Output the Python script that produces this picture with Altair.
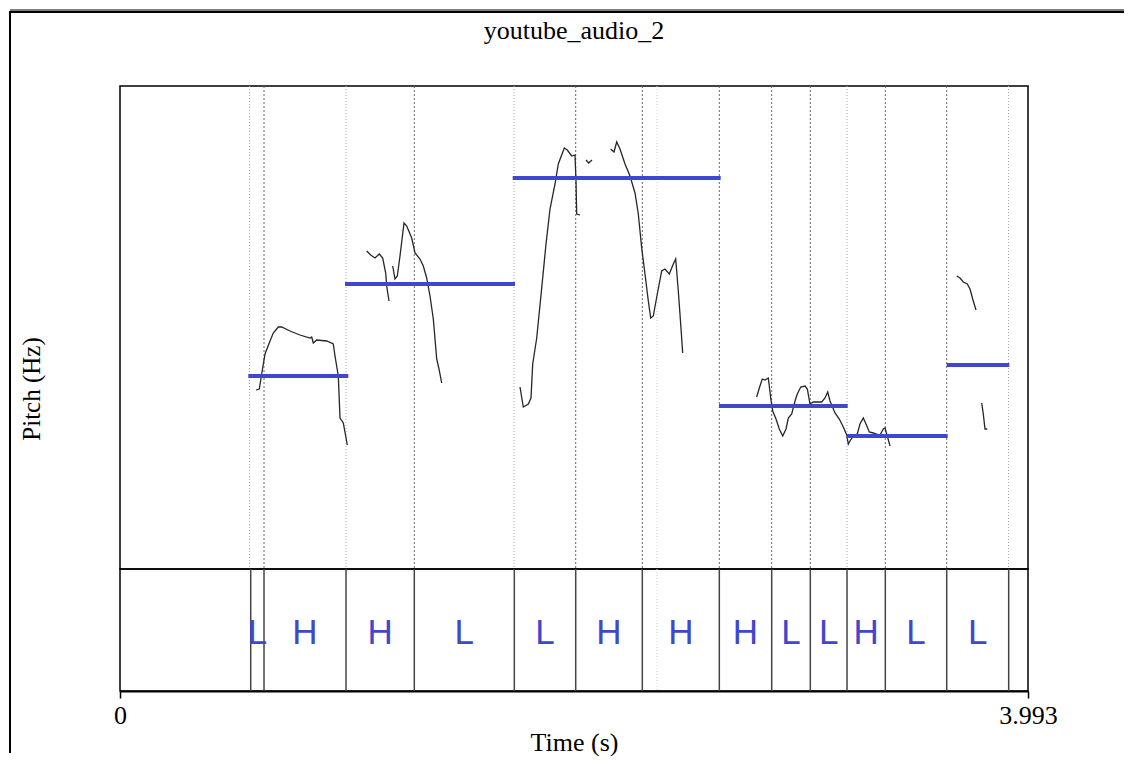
import altair as alt
import pandas as pd

TITLE = "youtube_audio_2"
T_END = 3.993
SERIF = "Liberation Serif"
SANS = "Liberation Sans"
BLUE = "#3f48cc"

# ---- pitch contour pieces (time in s, pitch in Hz) ----
seg_a_t = [0.5981, 0.6126, 0.6231, 0.6377, 0.6596, 0.6742, 0.6961, 0.7111, 0.7476, 0.7916, 0.8355,
           0.8430, 0.8501, 0.8650, 0.9090, 0.9380, 0.9455, 0.9600, 0.9675, 0.9820, 0.9996]
seg_a_hz = [279, 280, 295, 315, 328, 336, 342, 342, 338, 334, 331, 332, 326, 329, 328, 325, 313, 293, 251, 246, 224]

seg_b_t = [1.0849, 1.1025, 1.1214, 1.1403, 1.1552, 1.1684, 1.1728, 1.1830]
seg_b_hz = [418, 414, 411, 415, 411, 396, 383, 368]

seg_c_t = [1.1992, 1.2093, 1.2195, 1.2313, 1.2489, 1.2608, 1.2828, 1.2973, 1.3193, 1.3338, 1.3487,
           1.3633, 1.3778, 1.3927, 1.4028, 1.4147]
seg_c_hz = [403, 390, 393, 413, 446, 443, 431, 416, 410, 403, 391, 373, 350, 310, 300, 286]

seg_d_t = [1.7590, 1.7736, 1.7955, 1.8074, 1.8149, 1.8325, 1.8545, 1.8734, 1.8910, 1.9130, 1.9275,
           1.9539, 1.9670, 1.9864, 2.0009, 2.0053, 2.0083, 2.0229]
seg_d_hz = [282, 262, 265, 271, 305, 331, 381, 425, 460, 485, 505, 521, 519, 513, 514, 488, 455, 454]

seg_e_t = [2.0493, 2.0611, 2.0757]
seg_e_hz = [509, 506, 509]

seg_f_t = [2.1579, 2.1724, 2.1843, 2.1988, 2.2208, 2.2428, 2.2648, 2.2793, 2.2942, 2.3087, 2.3233,
           2.3338, 2.3452, 2.3628, 2.3822, 2.3967, 2.4156, 2.4332, 2.4437, 2.4552, 2.4657, 2.4745]
seg_f_hz = [520, 517, 527, 520, 505, 493, 476, 455, 421, 395, 368, 351, 353, 375, 398, 400, 395, 405,
            410, 378, 345, 316]

seg_g_t = [2.7999, 2.8114, 2.8246, 2.8365, 2.8510, 2.8615, 2.8703, 2.8848, 2.8993, 2.9143, 2.9288,
           2.9389, 2.9539, 2.9684, 2.9785, 2.9935, 3.0124, 3.0225, 3.0343, 3.0488, 3.0858, 3.1003,
           3.1122, 3.1223, 3.1443, 3.1632, 3.1808, 3.1958, 3.2028, 3.2102, 3.2248, 3.2423, 3.2542,
           3.2687, 3.2806, 3.2951, 3.3127, 3.3277, 3.3422, 3.3567, 3.3642, 3.3716, 3.3862]
seg_g_hz = [272, 281, 290, 289, 291, 271, 258, 250, 240, 233, 240, 251, 255, 268, 275, 282, 283, 280,
            265, 267, 267, 271, 277, 268, 256, 250, 242, 234, 225, 228, 233, 235, 245, 251, 245, 237,
            236, 235, 234, 240, 241, 235, 223]

seg_h_t = [3.6795, 3.6940, 3.7085, 3.7261, 3.7380, 3.7498, 3.7643]
seg_h_hz = [393, 391, 387, 385, 380, 370, 359]

seg_i_t = [3.7894, 3.7964, 3.8039, 3.8140]
seg_i_hz = [266, 255, 240, 240]

# ---- level lines (blue) ----
lvl_start = [0.5642, 0.9895, 1.7269, 2.6342, 3.1957, 3.6355]
lvl_end = [1.0040, 1.7371, 2.6416, 3.2001, 3.6399, 3.9108]
lvl_hz = [293, 385, 491, 263, 233, 304]

# ---- tier ----
tier_bounds = [0.5748, 0.6333, 0.9939, 1.2942, 1.7340, 2.0040, 2.2969, 2.6355, 2.8659,
               3.0357, 3.1971, 3.3655, 3.6355, 3.9081]
tier_labels = ["L", "H", "H", "L", "L", "H", "H", "H", "L", "L", "H", "L", "L"]

# boundary marks in the pitch area
dark_marks = [0.6333, 1.2942, 2.0040, 2.2969, 2.6355, 2.8659, 3.0357, 3.3655, 3.6355]
light_marks = [0.5695, 0.9939, 1.7327, 3.1971, 3.9073]
faint_marks = [2.3615]

W, H_P, H_T = 908, 483, 122

pieces = [("a", seg_a_t, seg_a_hz), ("b", seg_b_t, seg_b_hz), ("c", seg_c_t, seg_c_hz),
          ("d", seg_d_t, seg_d_hz), ("e", seg_e_t, seg_e_hz), ("f", seg_f_t, seg_f_hz),
          ("g", seg_g_t, seg_g_hz), ("h", seg_h_t, seg_h_hz), ("i", seg_i_t, seg_i_hz)]
rows = []
for name, ts, hs in pieces:
    for i, (t, h) in enumerate(zip(ts, hs)):
        rows.append({"seg": name, "i": i, "t": t, "hz": h})
contour_df = pd.DataFrame(rows)

lvl_df = pd.DataFrame({"t0": lvl_start, "t1": lvl_end, "hz": lvl_hz})
tier_df = pd.DataFrame({"t": tier_bounds})
lab_df = pd.DataFrame({
    "mid": [(tier_bounds[i] + tier_bounds[i + 1]) / 2 for i in range(len(tier_labels))],
    "lab": tier_labels,
})
one = pd.DataFrame({"k": [0]})

xs = alt.Scale(domain=[0, T_END], nice=False, zero=False)
ys = alt.Scale(domain=[100, 583], nice=False, zero=False)

y_axis = alt.Axis(title="Pitch (Hz)", labels=False, ticks=False, domain=False, grid=False,
                  titleFont=SERIF, titleFontSize=25, titleFontWeight="normal", titleColor="black",
                  titleX=-89, titleY=302.5, titleAngle=270, titleAlign="center",
                  titleBaseline="middle")

x_axis = alt.Axis(values=[0, T_END], labelExpr="format(datum.value, '.4~g')",
                  labelFlush=False, grid=False,
                  tickSize=7, tickWidth=1.5, tickColor="black",
                  domainColor="black", domainWidth=2,
                  labelFont=SERIF, labelFontSize=26, labelColor="black", labelPadding=4,
                  title="Time (s)", titleFont=SERIF, titleFontSize=26, titleFontWeight="normal",
                  titleColor="black", titlePadding=1)

light = alt.Chart(pd.DataFrame({"t": light_marks})).mark_rule(
    color="#a8a8a8", strokeWidth=1, strokeDash=[1, 2]).encode(x=alt.X("t:Q", scale=xs, axis=None))
faint = alt.Chart(pd.DataFrame({"t": faint_marks})).mark_rule(
    color="#cccccc", strokeWidth=1, strokeDash=[1, 2]).encode(x=alt.X("t:Q", scale=xs, axis=None))
dark = alt.Chart(pd.DataFrame({"t": dark_marks})).mark_rule(
    color="#666666", strokeWidth=1, strokeDash=[2, 2]).encode(x=alt.X("t:Q", scale=xs, axis=None))

contour = alt.Chart(contour_df).mark_line(color="#262626", strokeWidth=1.3).encode(
    x=alt.X("t:Q", scale=xs, axis=None),
    y=alt.Y("hz:Q", scale=ys, axis=y_axis),
    detail="seg:N",
    order="i:Q",
)
levels = alt.Chart(lvl_df).mark_rule(color=BLUE, strokeWidth=4).encode(
    x=alt.X("t0:Q", scale=xs, axis=None),
    x2="t1:Q",
    y=alt.Y("hz:Q", scale=ys, axis=y_axis),
)

# outer frame (top and left edges; the rest lies outside the picture)
frame_a = alt.Chart(one).mark_rule(color="black", strokeWidth=1).encode(
    x=alt.value(-110), x2=alt.value(1004), y=alt.value(-76))
frame_b = alt.Chart(one).mark_rule(color="black", strokeWidth=2).encode(
    x=alt.value(-110), x2=alt.value(1004), y=alt.value(-74))
frame_c = alt.Chart(one).mark_rule(color="black", strokeWidth=2).encode(
    x=alt.value(-110), y=alt.value(-75), y2=alt.value(667))
title_txt = alt.Chart(one).mark_text(
    text=TITLE, font=SERIF, fontSize=26, color="black", align="center", baseline="alphabetic"
).encode(x=alt.value(W / 2), y=alt.value(-47.5))

top = alt.layer(light, faint, dark, contour, levels, frame_a, frame_b, frame_c,
                title_txt).properties(width=W, height=H_P)

tier_lines = alt.Chart(tier_df).mark_rule(color="#444444", strokeWidth=1.5).encode(
    x=alt.X("t:Q", scale=xs, axis=x_axis))
tier_text = alt.Chart(lab_df).mark_text(
    font=SANS, fontSize=35, color=BLUE, align="center", baseline="alphabetic"
).encode(x=alt.X("mid:Q", scale=xs, axis=x_axis), y=alt.value(75), text="lab:N")
faint_tier = alt.Chart(pd.DataFrame({"t": faint_marks})).mark_rule(
    color="#cccccc", strokeWidth=1, strokeDash=[1, 2]).encode(x=alt.X("t:Q", scale=xs, axis=x_axis))

bottom = alt.layer(faint_tier, tier_lines, tier_text).properties(width=W, height=H_T)

chart = alt.vconcat(top, bottom, spacing=0, bounds="flush").properties(
    padding={"left": 0, "top": 0, "right": 0, "bottom": 0},
    background="white",
).configure_view(stroke="black", strokeWidth=1.5)

chart.save("out.html", embed_options={"renderer": "svg", "actions": False})
